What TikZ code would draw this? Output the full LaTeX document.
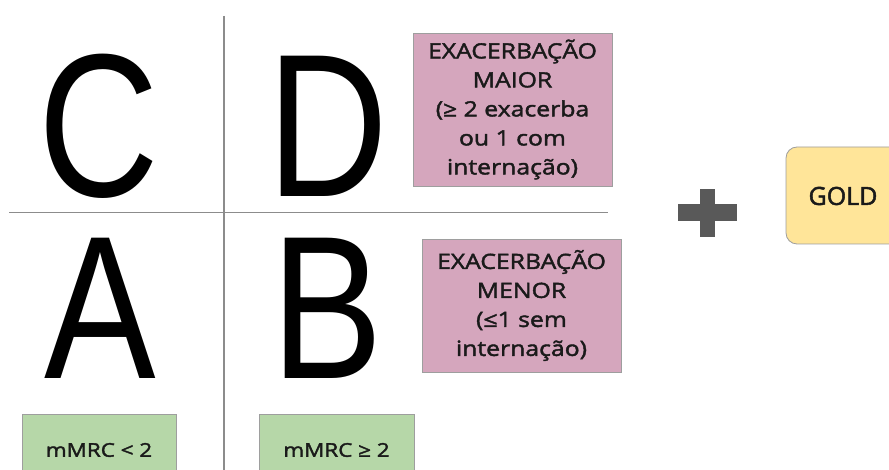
\documentclass[tikz,border=0pt]{standalone}
\usepackage{fontspec}
\setmainfont{Open Sans}
\newfontfamily\bigfont[FakeStretch=0.82]{Liberation Sans}
\newfontfamily\boxfont[FakeStretch=1.18,FakeBold=2]{Open Sans}
\newfontfamily\goldfont[FakeBold=2]{Open Sans}
\definecolor{gridgray}{HTML}{8C8C8C}
\definecolor{pinkfill}{HTML}{D5A6BD}
\definecolor{greenfill}{HTML}{B6D7A8}
\definecolor{goldfill}{HTML}{FFE599}
\definecolor{plusgray}{HTML}{595959}
\definecolor{edgegray}{HTML}{9E9E9E}
\definecolor{textdark}{HTML}{1A1A1A}
\begin{document}
\begin{tikzpicture}[x=1pt,y=-1pt,
  biglet/.style={anchor=base,inner sep=0pt,font=\bigfont\fontsize{204}{204}\selectfont},
  gridline/.style={draw=gridgray,line width=1.6pt},
  pinkbox/.style={draw=edgegray,line width=0.8pt,fill=pinkfill,inner sep=0pt,align=center,
    text=textdark,font=\boxfont\fontsize{21}{29}\selectfont},
  greenbox/.style={draw=edgegray,line width=0.8pt,fill=greenfill,inner sep=0pt,align=center,
    text=textdark,font=\boxfont\fontsize{19}{24}\selectfont},
  goldbox/.style={draw=edgegray,line width=0.8pt,fill=goldfill,rounded corners=11pt,inner sep=0pt}]
\useasboundingbox (0,0) rectangle (889,470);
\begin{scope}
\clip (0,0) rectangle (889,470);
% grid lines
\coordinate (vtop) at (224,16);
\coordinate (vbot) at (224,472);
\coordinate (hl) at (9,212.5);
\coordinate (hr) at (608,212.5);
\draw[gridline] (vtop) -- (vbot);
\draw[gridline] (hl) -- (hr);
% big letters
\node[biglet] (C) at (98.5,197) {C};
\node[biglet] (D) at (328,197) {D};
\node[biglet] (A) at (100.5,378) {A};
\node[biglet] (B) at (327.5,378) {B};
% pink boxes
\node[pinkbox,minimum width=199pt,minimum height=153pt] (maior) at (512.5,109.5)
  {EXACERBAÇÃO\\MAIOR\\(≥ 2 exacerba\\ou 1 com\\internação)};
\node[pinkbox,minimum width=199pt,minimum height=133pt] (menor) at (521.5,305.5)
  {EXACERBAÇÃO\\MENOR\\(≤1 sem\\internação)};
% green boxes
\node[greenbox,minimum width=154pt,minimum height=72pt] (m1) at (99,450) {mMRC < 2};
\node[greenbox,minimum width=155pt,minimum height=72pt] (m2) at (336.5,450) {mMRC ≥ 2};
% plus sign
\fill[plusgray] (678,204) rectangle (737,221);
\fill[plusgray] (700,189) rectangle (715,237);
% gold box
\node[goldbox,minimum width=120pt,minimum height=97pt] (gold) at (846,195.5) {};
\node[inner sep=0pt,text=textdark,font=\goldfont\fontsize{25}{30}\selectfont] (goldtxt) at (843,196) {GOLD};
\end{scope}
\end{tikzpicture}
\end{document}
